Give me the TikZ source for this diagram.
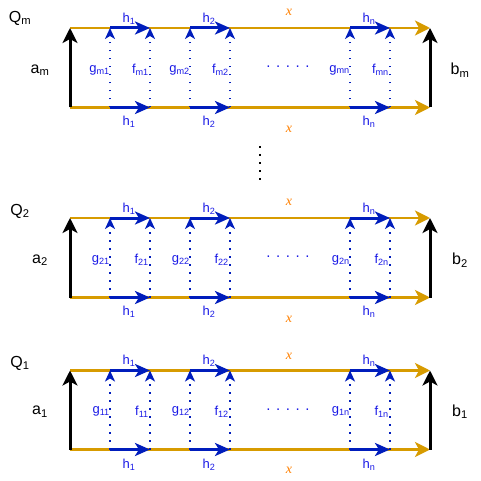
\documentclass[tikz,border=0pt]{standalone}
\usepackage{fontspec}
\setmainfont{Liberation Sans}
\newfontfamily\xfont{Liberation Serif}
\usetikzlibrary{arrows.meta}

\definecolor{railorange}{HTML}{D79B00}
\definecolor{xorange}{HTML}{FF8000}
\definecolor{hblue}{HTML}{001DBC}
\definecolor{lblue}{HTML}{1A1AE6}

\tikzset{
  rail/.style={draw=railorange, line width=2.8pt, -{Stealth[length=15pt,width=15pt,inset=4pt]}},
  side/.style={draw=black, line width=3pt, -{Stealth[length=15pt,width=15pt,inset=4pt]}},
  hmap/.style={draw=hblue, line width=3pt, -{Stealth[length=15pt,width=13pt,inset=4pt]}},
  link/.style={draw=hblue, line width=1.8pt, dash pattern=on 1.8pt off 6.2pt, -{Stealth[length=11pt,width=10pt,inset=3pt]}},
  biglabel/.style={font=\fontsize{16}{18}\selectfont, inner sep=0pt},
  hlabel/.style={text=lblue, font=\fontsize{13}{15}\selectfont, inner sep=0pt},
  gflabel/.style={text=lblue, font=\fontsize{13}{15}\selectfont, inner sep=0pt, anchor=east},
  xlabel/.style={text=xorange, font=\xfont\itshape\fontsize{14}{16}\selectfont, inner sep=0pt},
}

\begin{document}
\begin{tikzpicture}[x=1pt, y=-1pt]
\useasboundingbox (0,0) rectangle (481,481);

% block m
\coordinate (m-lb) at (70,107.5);
\coordinate (m-lt) at (70,28);
\coordinate (m-rb) at (430,107.5);
\coordinate (m-rt) at (430,28);
\coordinate (m-1b) at (110,107.5);
\coordinate (m-1t) at (110,28);
\coordinate (m-2b) at (150,107.5);
\coordinate (m-2t) at (150,28);
\coordinate (m-3b) at (190,107.5);
\coordinate (m-3t) at (190,28);
\coordinate (m-4b) at (230,107.5);
\coordinate (m-4t) at (230,28);
\coordinate (m-5b) at (350,107.5);
\coordinate (m-5t) at (350,28);
\coordinate (m-6b) at (390,107.5);
\coordinate (m-6t) at (390,28);

\draw[rail] (m-lt) -- (m-rt);
\draw[rail] (m-lb) -- (m-rb);
\draw[hmap] (m-1t) -- (m-2t);
\draw[hmap] (m-3t) -- (m-4t);
\draw[hmap] (m-5t) -- (m-6t);
\draw[hmap] (m-1b) -- (m-2b);
\draw[hmap] (m-3b) -- (m-4b);
\draw[hmap] (m-5b) -- (m-6b);
\draw[link] (m-1b) -- (m-1t);
\draw[link] (m-2b) -- (m-2t);
\draw[link] (m-3b) -- (m-3t);
\draw[link] (m-4b) -- (m-4t);
\draw[link] (m-5b) -- (m-5t);
\draw[link] (m-6b) -- (m-6t);
\draw[side] (m-lb) -- (m-lt);
\draw[side] (m-rb) -- (m-rt);

\node[biglabel] (m-Q) at (20,18) {Q\textsubscript{m}};
\node[biglabel] (m-a) at (40,70) {a\textsubscript{m}};
\node[biglabel] (m-b) at (460,70) {b\textsubscript{m}};
\node[hlabel] (m-h1t) at (129,19) {h\textsubscript{1}};
\node[hlabel] (m-h2t) at (209,19) {h\textsubscript{2}};
\node[hlabel] (m-hnt) at (369,19) {h\textsubscript{n}};
\node[hlabel] (m-h1b) at (129,122) {h\textsubscript{1}};
\node[hlabel] (m-h2b) at (209,122) {h\textsubscript{2}};
\node[hlabel] (m-hnb) at (369,122) {h\textsubscript{n}};
\node[xlabel] (m-xt) at (289,12) {x};
\node[xlabel] (m-xb) at (289,129) {x};
\node[gflabel] (m-g1) at (110,70) {g\textsubscript{m1}};
\node[gflabel] (m-f1) at (149,70) {f\textsubscript{m1}};
\node[gflabel] (m-g2) at (190,70) {g\textsubscript{m2}};
\node[gflabel] (m-f2) at (229,70) {f\textsubscript{m2}};
\node[gflabel] (m-gn) at (350,70) {g\textsubscript{mn}};
\node[gflabel] (m-fn) at (389,70) {f\textsubscript{mn}};
\node[hlabel, font=\fontsize{15}{17}\selectfont] (m-dots) at (288,67) {. . . . .};

% skipped blocks
\draw[line width=2pt, dash pattern=on 2pt off 6pt] (260,146) -- (260,182);

% block 2
\coordinate (two-lb) at (70,297.5);
\coordinate (two-lt) at (70,218);
\coordinate (two-rb) at (430,297.5);
\coordinate (two-rt) at (430,218);
\coordinate (two-1b) at (110,297.5);
\coordinate (two-1t) at (110,218);
\coordinate (two-2b) at (150,297.5);
\coordinate (two-2t) at (150,218);
\coordinate (two-3b) at (190,297.5);
\coordinate (two-3t) at (190,218);
\coordinate (two-4b) at (230,297.5);
\coordinate (two-4t) at (230,218);
\coordinate (two-5b) at (350,297.5);
\coordinate (two-5t) at (350,218);
\coordinate (two-6b) at (390,297.5);
\coordinate (two-6t) at (390,218);

\draw[rail] (two-lt) -- (two-rt);
\draw[rail] (two-lb) -- (two-rb);
\draw[hmap] (two-1t) -- (two-2t);
\draw[hmap] (two-3t) -- (two-4t);
\draw[hmap] (two-5t) -- (two-6t);
\draw[hmap] (two-1b) -- (two-2b);
\draw[hmap] (two-3b) -- (two-4b);
\draw[hmap] (two-5b) -- (two-6b);
\draw[link] (two-1b) -- (two-1t);
\draw[link] (two-2b) -- (two-2t);
\draw[link] (two-3b) -- (two-3t);
\draw[link] (two-4b) -- (two-4t);
\draw[link] (two-5b) -- (two-5t);
\draw[link] (two-6b) -- (two-6t);
\draw[side] (two-lb) -- (two-lt);
\draw[side] (two-rb) -- (two-rt);

\node[biglabel] (two-Q) at (20,211) {Q\textsubscript{2}};
\node[biglabel] (two-a) at (40,260) {a\textsubscript{2}};
\node[biglabel] (two-b) at (460,260) {b\textsubscript{2}};
\node[hlabel] (two-h1t) at (129,209) {h\textsubscript{1}};
\node[hlabel] (two-h2t) at (209,209) {h\textsubscript{2}};
\node[hlabel] (two-hnt) at (369,209) {h\textsubscript{n}};
\node[hlabel] (two-h1b) at (129,312) {h\textsubscript{1}};
\node[hlabel] (two-h2b) at (209,312) {h\textsubscript{2}};
\node[hlabel] (two-hnb) at (369,312) {h\textsubscript{n}};
\node[xlabel] (two-xt) at (289,202) {x};
\node[xlabel] (two-xb) at (289,319) {x};
\node[gflabel] (two-g1) at (110,260) {g\textsubscript{21}};
\node[gflabel] (two-f1) at (149,260) {f\textsubscript{21}};
\node[gflabel] (two-g2) at (190,260) {g\textsubscript{22}};
\node[gflabel] (two-f2) at (229,260) {f\textsubscript{22}};
\node[gflabel] (two-gn) at (350,260) {g\textsubscript{2n}};
\node[gflabel] (two-fn) at (389,260) {f\textsubscript{2n}};
\node[hlabel, font=\fontsize{15}{17}\selectfont] (two-dots) at (288,257) {. . . . .};

% block 1
\coordinate (one-lb) at (70,449.5);
\coordinate (one-lt) at (70,370.5);
\coordinate (one-rb) at (430,449.5);
\coordinate (one-rt) at (430,370.5);
\coordinate (one-1b) at (110,449.5);
\coordinate (one-1t) at (110,370.5);
\coordinate (one-2b) at (150,449.5);
\coordinate (one-2t) at (150,370.5);
\coordinate (one-3b) at (190,449.5);
\coordinate (one-3t) at (190,370.5);
\coordinate (one-4b) at (230,449.5);
\coordinate (one-4t) at (230,370.5);
\coordinate (one-5b) at (350,449.5);
\coordinate (one-5t) at (350,370.5);
\coordinate (one-6b) at (390,449.5);
\coordinate (one-6t) at (390,370.5);

\draw[rail] (one-lt) -- (one-rt);
\draw[rail] (one-lb) -- (one-rb);
\draw[hmap] (one-1t) -- (one-2t);
\draw[hmap] (one-3t) -- (one-4t);
\draw[hmap] (one-5t) -- (one-6t);
\draw[hmap] (one-1b) -- (one-2b);
\draw[hmap] (one-3b) -- (one-4b);
\draw[hmap] (one-5b) -- (one-6b);
\draw[link] (one-1b) -- (one-1t);
\draw[link] (one-2b) -- (one-2t);
\draw[link] (one-3b) -- (one-3t);
\draw[link] (one-4b) -- (one-4t);
\draw[link] (one-5b) -- (one-5t);
\draw[link] (one-6b) -- (one-6t);
\draw[side] (one-lb) -- (one-lt);
\draw[side] (one-rb) -- (one-rt);

\node[biglabel] (one-Q) at (20,363) {Q\textsubscript{1}};
\node[biglabel] (one-a) at (40,411.5) {a\textsubscript{1}};
\node[biglabel] (one-b) at (460,411.5) {b\textsubscript{1}};
\node[hlabel] (one-h1t) at (129,361) {h\textsubscript{1}};
\node[hlabel] (one-h2t) at (209,361) {h\textsubscript{2}};
\node[hlabel] (one-hnt) at (369,361) {h\textsubscript{n}};
\node[hlabel] (one-h1b) at (129,465) {h\textsubscript{1}};
\node[hlabel] (one-h2b) at (209,465) {h\textsubscript{2}};
\node[hlabel] (one-hnb) at (369,465) {h\textsubscript{n}};
\node[xlabel] (one-xt) at (289,356) {x};
\node[xlabel] (one-xb) at (289,470) {x};
\node[gflabel] (one-g1) at (110,411.5) {g\textsubscript{11}};
\node[gflabel] (one-f1) at (149,411.5) {f\textsubscript{11}};
\node[gflabel] (one-g2) at (190,411.5) {g\textsubscript{12}};
\node[gflabel] (one-f2) at (229,411.5) {f\textsubscript{12}};
\node[gflabel] (one-gn) at (350,411.5) {g\textsubscript{1n}};
\node[gflabel] (one-fn) at (389,411.5) {f\textsubscript{1n}};
\node[hlabel, font=\fontsize{15}{17}\selectfont] (one-dots) at (288,410) {. . . . .};
\end{tikzpicture}
\end{document}
